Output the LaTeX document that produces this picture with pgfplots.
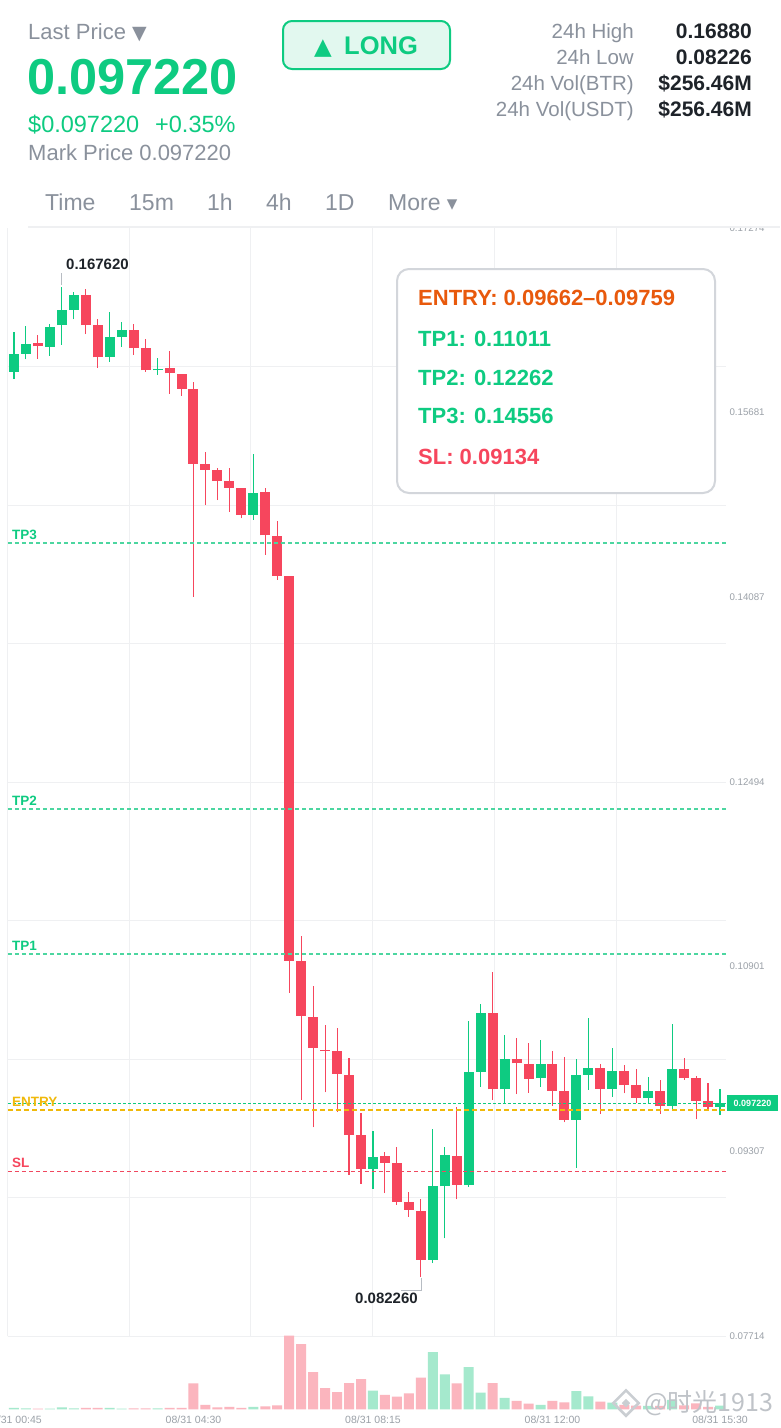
\documentclass[border=0pt]{standalone}
\usepackage{fontspec}
\setmainfont{Liberation Sans}
\newfontfamily\dejavu{DejaVu Sans}
\newfontfamily\cjk{Noto Sans CJK SC}
\usepackage{pgfplots}
\pgfplotsset{compat=1.18}
\usepackage{pgfplotstable}

\newcommand{\fs}[1]{\fontsize{#1}{#1}\selectfont}

\definecolor{cG}{HTML}{0ECB81}
\definecolor{cR}{HTML}{F6465D}
\definecolor{cVG}{HTML}{A5E9CD}
\definecolor{cVR}{HTML}{FBB5BE}
\definecolor{cGray}{HTML}{8A919C}
\definecolor{cTick}{HTML}{9BA1A8}
\definecolor{cDark}{HTML}{1E2329}
\definecolor{cGrid}{HTML}{EFF0F2}
\definecolor{cYel}{HTML}{F0B90B}
\definecolor{cOra}{HTML}{E8590C}
\definecolor{cBorder}{HTML}{D3D6DB}
\definecolor{cBtn}{HTML}{E2F8EF}
\definecolor{cLead}{HTML}{B7BCC3}
\definecolor{cTP}{HTML}{4CD6A0}
\definecolor{cSL}{HTML}{F0485F}

\pgfplotsset{
  hidemark/.style={only marks, mark=*, mark size=0.1pt,
    mark options={draw opacity=0, fill opacity=0}, forget plot},
}

\pgfplotstableread{
i o h l c
2 0.16282 0.16351 0.16144 0.16253
6 0.16696 0.16745 0.16359 0.16435
7 0.16435 0.16486 0.16069 0.16158
10 0.16391 0.16446 0.16181 0.16239
11 0.16239 0.16314 0.16034 0.16046
13 0.16064 0.16210 0.15844 0.16020
14 0.16014 0.16014 0.15825 0.15885
15 0.15885 0.15943 0.14093 0.15240
16 0.15238 0.15344 0.14884 0.15189
17 0.15189 0.15203 0.14927 0.15089
18 0.15089 0.15203 0.14826 0.15033
19 0.15033 0.15033 0.14769 0.14800
21 0.14996 0.15033 0.14453 0.14623
22 0.14614 0.14746 0.14237 0.14274
23 0.14272 0.14272 0.10676 0.10953
24 0.10953 0.11166 0.09751 0.10478
25 0.10469 0.10734 0.09515 0.10197
26 0.10186 0.10395 0.09817 0.10172
27 0.10173 0.10372 0.09650 0.09975
28 0.09966 0.10110 0.09104 0.09451
29 0.09449 0.09636 0.09026 0.09155
31 0.09265 0.09299 0.08946 0.09210
32 0.09205 0.09348 0.08845 0.08873
33 0.08868 0.08954 0.08744 0.08802
34 0.08793 0.08897 0.08226 0.08370
37 0.09270 0.09688 0.08894 0.09017
40 0.10499 0.10853 0.09751 0.09843
42 0.10102 0.10288 0.09802 0.10067
43 0.10059 0.10242 0.09814 0.09934
45 0.10059 0.10173 0.09702 0.09831
46 0.09828 0.10122 0.09558 0.09581
49 0.10024 0.10059 0.09630 0.09848
51 0.10001 0.10053 0.09808 0.09878
52 0.09878 0.10018 0.09727 0.09771
54 0.09828 0.09923 0.09630 0.09702
56 0.10021 0.10116 0.09923 0.09938
57 0.09938 0.09958 0.09584 0.09745
58 0.09742 0.09897 0.09670 0.09693
}\redtab

\pgfplotstableread{
i o h l c
0 0.16034 0.16379 0.15971 0.16184
1 0.16190 0.16429 0.16141 0.16276
3 0.16250 0.16446 0.16172 0.16422
4 0.16435 0.16762 0.16265 0.16564
5 0.16567 0.16722 0.16486 0.16696
8 0.16161 0.16549 0.16118 0.16334
9 0.16336 0.16460 0.16250 0.16391
12 0.16046 0.16155 0.16008 0.16059
20 0.14800 0.15322 0.14755 0.14990
30 0.09155 0.09481 0.08985 0.09261
35 0.08370 0.09498 0.08342 0.09006
36 0.09006 0.09348 0.08557 0.09274
38 0.09015 0.10435 0.09003 0.09990
39 0.09992 0.10577 0.09865 0.10499
41 0.09843 0.10309 0.09716 0.10102
44 0.09938 0.10266 0.09865 0.10059
47 0.09581 0.10102 0.09167 0.09964
48 0.09969 0.10458 0.09837 0.10024
50 0.09848 0.10199 0.09779 0.10001
53 0.09765 0.09952 0.09722 0.09831
55 0.09699 0.10409 0.09658 0.10021
59 0.09690 0.09846 0.09619 0.09722
}\greentab

\pgfplotstableread{
i v
0 4
1 3
3 2
4 6
5 3
8 4
9 2
12 3
20 7
30 56
35 172
36 105
38 127
39 50
41 34
44 13
47 55
48 39
50 20
53 10
55 28
59 11
}\volg

\pgfplotstableread{
i v
2 2
6 4
7 4
10 3
11 3
13 4
14 4
15 78
16 13
17 6
18 7
19 4
21 9
22 12
23 221
24 196
25 112
26 64
27 52
28 79
29 91
31 43
32 38
33 48
34 95
37 78
40 79
42 25
43 17
45 25
46 21
49 23
51 13
52 11
54 10
56 12
57 18
58 7
}\volr

\begin{document}
\begin{tikzpicture}
\path[use as bounding box] (0,0) rectangle (780pt,-1428pt);
\fill[white] (0,0) rectangle (780pt,-1428pt);

% ---------- price axis ----------
\begin{axis}[
  at={(8pt,-1336pt)}, anchor=south west, scale only axis,
  width=718pt, height=1108pt,
  xmin=-0.5, xmax=59.5, ymin=0.07714, ymax=0.17274,
  axis line style={draw=none},
  major tick length=0pt,
  xtick={9.64,19.8,30.0,40.15,50.35}, xticklabels={},
  ytick={0.16079,0.14884,0.13689,0.12494,0.11299,0.10104,0.08909,0.07714}, yticklabels={},
  xmajorgrids, ymajorgrids,
  grid style={cGrid, line width=1pt},
  yticklabel pos=right,
  extra y ticks={0.17274,0.15681,0.14087,0.12494,0.10901,0.09307,0.07714},
  extra y tick labels={0.17274,0.15681,0.14087,0.12494,0.10901,0.09307,0.07714},
  extra y tick style={grid=none, yticklabel style={font=\fs{9.7}, text=cTick, anchor=west}},
  /pgf/number format/assume math mode=true,
  clip=false,
]
\draw[cGrid, line width=1pt] (rel axis cs:0,0) -- (rel axis cs:0,1);

% red wicks and bodies
\addplot[hidemark,
  error bars/.cd, y dir=plus, y explicit, error mark=none,
  error bar style={line width=1.1pt, draw=cR, draw opacity=1}]
  table[x=i, y=l, y error plus expr=\thisrow{h}-\thisrow{l}] {\redtab};
\addplot[hidemark,
  error bars/.cd, y dir=plus, y explicit, error mark=none,
  error bar style={line width=10pt, draw=cR, draw opacity=1}]
  table[x=i, y=c, y error plus expr=\thisrow{o}-\thisrow{c}] {\redtab};
% green wicks and bodies
\addplot[hidemark,
  error bars/.cd, y dir=plus, y explicit, error mark=none,
  error bar style={line width=1.1pt, draw=cG, draw opacity=1}]
  table[x=i, y=l, y error plus expr=\thisrow{h}-\thisrow{l}] {\greentab};
\addplot[hidemark,
  error bars/.cd, y dir=plus, y explicit, error mark=none,
  error bar style={line width=10pt, draw=cG, draw opacity=1}]
  table[x=i, y=o, y error plus expr=\thisrow{c}-\thisrow{o}] {\greentab};

% level lines
\addplot[draw=cTP, line width=1.4pt, dash pattern=on 4pt off 3pt] coordinates {(-0.5,0.14556) (59.5,0.14556)};
\addplot[draw=cTP, line width=1.4pt, dash pattern=on 4pt off 3pt] coordinates {(-0.5,0.12262) (59.5,0.12262)};
\addplot[draw=cTP, line width=1.4pt, dash pattern=on 4pt off 3pt] coordinates {(-0.5,0.11011) (59.5,0.11011)};
\addplot[draw=cG, line width=1.4pt, dash pattern=on 3pt off 2pt] coordinates {(-0.5,0.09722) (59.5,0.09722)};
\addplot[draw=cYel, line width=1.5pt, dash pattern=on 5pt off 3pt] coordinates {(-0.5,0.09662) (59.5,0.09662)};
\addplot[draw=cSL, line width=1.4pt, dash pattern=on 4pt off 3pt] coordinates {(-0.5,0.09134) (59.5,0.09134)};
\end{axis}

% ---------- volume axis ----------
\begin{axis}[
  at={(8pt,-1409.3pt)}, anchor=south west, scale only axis,
  width=718pt, height=73.6pt,
  xmin=-0.5, xmax=59.5, ymin=0, ymax=221,
  axis line style={draw=none}, major tick length=0pt,
  ytick=\empty,
  xtick={0,15,30,45,59},
  xticklabels={08/31 00:45,08/31 04:30,08/31 08:15,08/31 12:00,08/31 15:30},
  xticklabel style={font=\fs{10.5}, text=cTick, yshift=-3.5pt},
  clip=false,
]
\addplot[ybar, bar width=10pt, bar shift=0pt, fill=cVG, draw=none] table[x=i,y=v]{\volg};
\addplot[ybar, bar width=10pt, bar shift=0pt, fill=cVR, draw=none] table[x=i,y=v]{\volr};
\end{axis}

% ---------- header ----------
\fill[white] (0,0) rectangle (780pt,-226.5pt);
\draw[cGrid, line width=1.5pt] (28pt,-227pt) -- (780pt,-227pt);

\node[anchor=base west, inner sep=0, text=cGray, font=\fs{22}] at (28pt,-39pt) {Last Price {\dejavu\fs{19}▼}};
\node[anchor=base west, inner sep=0, text=cG, font=\bfseries\fs{50.5}] at (27pt,-94pt) {0.097220};
\node[anchor=base west, inner sep=0, text=cG, font=\fs{23.5}] at (28pt,-132pt) {\$0.097220};
\node[anchor=base west, inner sep=0, text=cG, font=\fs{23.5}] at (155pt,-132pt) {+0.35\%};
\node[anchor=base west, inner sep=0, text=cGray, font=\fs{22}] at (28pt,-160pt) {Mark Price 0.097220};

\draw[cG, line width=2pt, fill=cBtn, rounded corners=9pt] (283pt,-21pt) rectangle (450pt,-69pt);
\node[anchor=base west, inner sep=0, text=cG, font=\dejavu\fs{23}] at (314pt,-54pt) {▲};
\node[anchor=base west, inner sep=0, text=cG, font=\bfseries\fs{25.5}] at (344pt,-54pt) {LONG};

\foreach \lab/\val/\yy in {24h High/0.16880/38, 24h Low/0.08226/64, 24h Vol(BTR)/\$256.46M/90, 24h Vol(USDT)/\$256.46M/116}{
  \node[anchor=base east, inner sep=0, text=cGray, font=\fs{20.5}] at (634pt,-\yy pt) {\lab};
  \node[anchor=base east, inner sep=0, text=cDark, font=\bfseries\fs{21}] at (752pt,-\yy pt) {\val};
}

\foreach \tab/\xx in {Time/45, 15m/129, 1h/207, 4h/266, 1D/325}{
  \node[anchor=base west, inner sep=0, text=cGray, font=\fs{23}] at (\xx pt,-210pt) {\tab};
}
\node[anchor=base west, inner sep=0, text=cGray, font=\fs{23}] at (388pt,-210pt) {More {\dejavu\fs{21}▾}};

% ---------- annotations ----------
\node[anchor=west, inner sep=0, text=cDark, font=\bfseries\fs{15}] at (66pt,-264pt) {0.167620};
\draw[cLead, line width=1pt] (61.7pt,-273pt) -- (61.7pt,-285pt);
\node[anchor=west, inner sep=0, text=cDark, font=\bfseries\fs{15}] at (355pt,-1298pt) {0.082260};
\draw[cLead, line width=1pt] (421pt,-1278pt) -- (421pt,-1290pt) -- (401pt,-1290pt);

\node[anchor=base west, inner sep=0, text=cG, font=\bfseries\fs{13.5}] at (12pt,-539pt) {TP3};
\node[anchor=base west, inner sep=0, text=cG, font=\bfseries\fs{13.5}] at (12pt,-805pt) {TP2};
\node[anchor=base west, inner sep=0, text=cG, font=\bfseries\fs{13.5}] at (12pt,-950pt) {TP1};
\node[anchor=base west, inner sep=0, text=cYel, font=\bfseries\fs{13.5}] at (12pt,-1106pt) {ENTRY};
\node[anchor=base west, inner sep=0, text=cR, font=\bfseries\fs{13.5}] at (12pt,-1167pt) {SL};

% legend box
\draw[cBorder, line width=2pt, fill=white, rounded corners=12pt] (397pt,-269pt) rectangle (715pt,-493pt);
\node[anchor=west, inner sep=0, text=cOra, font=\bfseries\fs{22}] at (418pt,-298.3pt) {ENTRY: 0.09662–0.09759};
\node[anchor=west, inner sep=0, text=cG, font=\bfseries\fs{22}] at (418pt,-339pt) {TP1: 0.11011};
\node[anchor=west, inner sep=0, text=cG, font=\bfseries\fs{22}] at (418pt,-378pt) {TP2: 0.12262};
\node[anchor=west, inner sep=0, text=cG, font=\bfseries\fs{22}] at (418pt,-416pt) {TP3: 0.14556};
\node[anchor=west, inner sep=0, text=cR, font=\bfseries\fs{22}] at (418pt,-456.7pt) {SL: 0.09134};

% current price tag
\fill[cG] (727pt,-1095pt) rectangle (778pt,-1111pt);
\node[inner sep=0, text=white, font=\bfseries\fs{9}] at (752.5pt,-1103pt) {0.097220};

% watermark
\begin{scope}[shift={(626pt,-1403pt)}]
  \draw[cGray!45, line width=2.5pt, rotate=45] (-9pt,-9pt) rectangle (9pt,9pt);
  \fill[cGray!45, rotate=45] (-3pt,-3pt) rectangle (3pt,3pt);
\end{scope}
\node[anchor=west, inner sep=0, text=cGray!55, font=\cjk\fs{25}] at (644pt,-1403pt) {@时光1913};
\end{tikzpicture}
\end{document}
